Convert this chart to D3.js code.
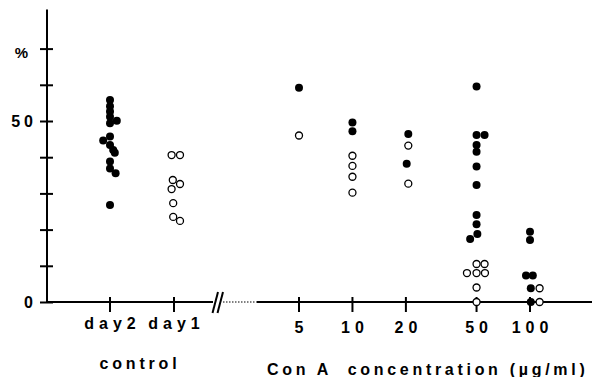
<!DOCTYPE html>
<html>
<head>
<meta charset="utf-8">
<script src="https://cdn.jsdelivr.net/npm/d3@7"></script>
<style>
    body { margin: 0; background: #fff; }
    text { font-family: "Liberation Sans", Arial, sans-serif; font-weight: bold; fill: #000; }
</style>
</head>
<body>
<div id="chart"></div>
<script>
const controlGroups = ['day2', 'day1'];
const conADoses = [5, 10, 20, 50, 100];
const yTicks = [0, 10, 20, 30, 40, 50, 60, 70];
const yTickLabels = ['0', '', '', '', '', '50', '', '%'];

// [value, sideways offset in dot widths]
const day2Filled = [[55.8, 0], [54.1, 0], [52.6, 0], [51.2, 0], [50.1, 0.85], [49.4, 0],
    [45.7, 0], [44.6, -0.85], [43.4, 0], [42.0, 0.4], [41.2, 0.6], [38.8, 0], [36.9, 0],
    [35.6, 0.7], [26.8, 0]];
const day1Open = [[40.6, -0.3], [40.6, 0.75], [33.7, -0.15], [32.6, 0.75], [31.2, -0.3],
    [27.3, -0.1], [23.5, -0.1], [22.4, 0.75]];

// [dose, value, sideways offset]
const conAFilled = [[5, 59.2, 0], [10, 49.6, 0], [10, 47.2, 0], [20, 46.4, 0.3], [20, 38.2, 0.1],
    [50, 59.5, 0], [50, 46.1, 0], [50, 46.1, 1], [50, 43.4, 0], [50, 41.5, 0], [50, 37.4, 0],
    [50, 32.3, 0], [50, 24.0, 0], [50, 21.5, 0], [50, 18.8, 0.1], [50, 17.4, -0.8],
    [100, 19.4, 0], [100, 17.1, 0], [100, 7.3, -0.5], [100, 7.3, 0.35], [100, 3.8, 0.1], [100, 0, 0.1]];
const conAOpen = [[5, 46.0, 0], [10, 40.4, 0], [10, 37.6, 0], [10, 34.6, 0], [10, 30.2, 0],
    [20, 43.2, 0.3], [20, 32.7, 0.3], [50, 10.5, 0], [50, 10.5, 1], [50, 8.0, -1.2], [50, 8.0, 0],
    [50, 8.0, 1.05], [50, 4.0, 0], [50, 0, 0], [100, 3.8, 1.2], [100, 0, 1.2]];

const width = 601;
const height = 377;
const axisX = 47;
const slot = 8;

const svg = d3.select('#chart')
    .append('svg')
    .attr('width', width)
    .attr('height', height);

//y scale, percent
const yScale = d3.scaleLinear()
    .domain([0, 50])
    .range([302, 121]);

//control groups
const xControl = d3.scalePoint()
    .domain(controlGroups)
    .range([110, 174]);

//Con A concentration, log
const xConA = d3.scaleLog()
    .domain([5, 100])
    .range([299, 530]);

const y0 = yScale(0);

//y axis
const yAxis = d3.axisLeft(yScale)
    .tickValues(yTicks)
    .tickSize(7)
    .tickPadding(7)
    .tickFormat((d, i) => yTickLabels[i]);

const yg = svg.append('g')
    .attr('transform', 'translate(' + axisX + ',0)')
    .call(yAxis);
yg.select('.domain').remove();
yg.selectAll('.tick line')
    .attr('x1', 6)
    .attr('stroke', '#000')
    .attr('stroke-width', 2);
yg.selectAll('.tick text')
    .attr('font-size', 16)
    .attr('font-family', null)
    .attr('letter-spacing', 4)
    .attr('dx', 4)
    .attr('fill', '#000');
yg.selectAll('.tick text')
    .filter(d => d === 70)
    .attr('font-size', 15)
    .attr('dx', -5)
    .attr('dy', '0.6em')
    .attr('letter-spacing', 0);

svg.append('line')
    .attr('x1', axisX).attr('x2', axisX)
    .attr('y1', y0).attr('y2', yScale(80.8))
    .attr('stroke', '#000')
    .attr('stroke-width', 2);

//x axis, control part
svg.append('line')
    .attr('x1', axisX - 1).attr('x2', 213)
    .attr('y1', y0).attr('y2', y0)
    .attr('stroke', '#000')
    .attr('stroke-width', 2);

//axis break
svg.selectAll('line.break')
    .data([0, 5])
    .enter()
    .append('line')
    .classed('break', true)
    .attr('x1', d => 212.5 + d).attr('y1', y0 + 11)
    .attr('x2', d => 218 + d).attr('y2', y0 - 10)
    .attr('stroke', '#000')
    .attr('stroke-width', 2);

//x axis, Con A part
svg.append('line')
    .attr('x1', 223).attr('x2', 257)
    .attr('y1', y0).attr('y2', y0)
    .attr('stroke', '#000')
    .attr('stroke-width', 1.2)
    .attr('stroke-dasharray', '1.5,1.5');
svg.append('line')
    .attr('x1', 257).attr('x2', 592)
    .attr('y1', y0).attr('y2', y0)
    .attr('stroke', '#000')
    .attr('stroke-width', 2);

const xTicks = controlGroups.map(d => ({ x: xControl(d), label: d, spacing: 5 }))
    .concat(conADoses.map(d => ({ x: xConA(d), label: String(d), spacing: 5 })));

svg.selectAll('line.xtick')
    .data(xTicks)
    .enter()
    .append('line')
    .classed('xtick', true)
    .attr('x1', d => d.x).attr('x2', d => d.x)
    .attr('y1', y0 - 5).attr('y2', y0 + 10)
    .attr('stroke', '#000')
    .attr('stroke-width', 2);

svg.selectAll('text.xlabel')
    .data(xTicks)
    .enter()
    .append('text')
    .classed('xlabel', true)
    .attr('x', d => d.x)
    .attr('dx', d => d.spacing / 2)
    .attr('y', (d, i) => i < 2 ? 329 : 333)
    .attr('text-anchor', 'middle')
    .attr('font-size', 16)
    .attr('letter-spacing', d => d.spacing)
    .text(d => d.label);

//axis titles
svg.append('text')
    .attr('x', (xControl('day2') + xControl('day1')) / 2 - 4)
    .attr('dx', 2)
    .attr('y', 369)
    .attr('text-anchor', 'middle')
    .attr('font-size', 16)
    .attr('letter-spacing', 3.8)
    .text('control');

svg.append('text')
    .attr('x', 267)
    .attr('y', 375)
    .attr('font-size', 16)
    .attr('letter-spacing', 3.7)
    .attr('xml:space', 'preserve')
    .style('white-space', 'pre')
    .text('Con A  concentration (µg/ml)');

//points
const points = []
    .concat(day2Filled.map(d => ({ x: xControl('day2') + d[1] * slot, v: d[0], filled: true })))
    .concat(day1Open.map(d => ({ x: xControl('day1') + d[1] * slot, v: d[0], filled: false })))
    .concat(conAFilled.map(d => ({ x: xConA(d[0]) + d[2] * slot, v: d[1], filled: true })))
    .concat(conAOpen.map(d => ({ x: xConA(d[0]) + d[2] * slot, v: d[1], filled: false })));

svg.selectAll('circle')
    .data(points)
    .enter()
    .append('circle')
    .attr('cx', d => d.x)
    .attr('cy', d => yScale(d.v))
    .attr('r', d => d.filled ? 4 : 3.5)
    .attr('fill', d => d.filled ? '#000' : '#fff')
    .attr('stroke', '#000')
    .attr('stroke-width', d => d.filled ? 0 : 1.3);
</script>
</body>
</html>
